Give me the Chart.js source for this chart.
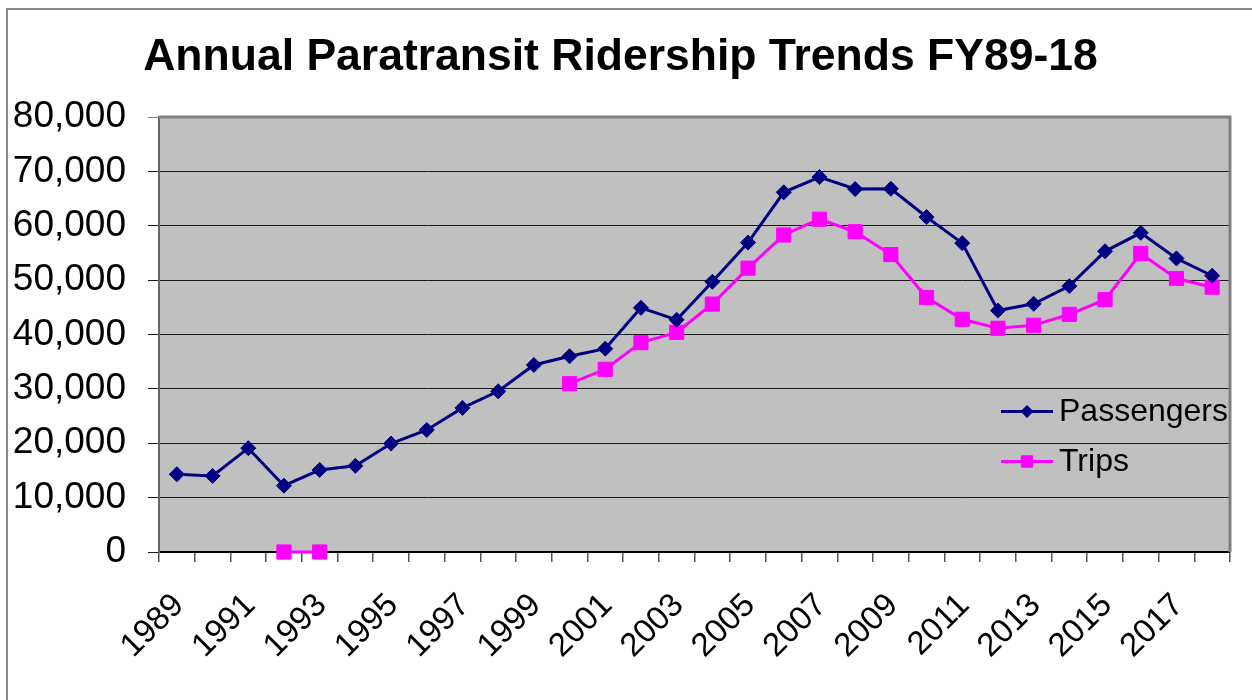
<!DOCTYPE html>
<html>
<head>
<meta charset="utf-8">
<script src="https://cdn.jsdelivr.net/npm/chart.js@4.4.0/dist/chart.umd.min.js"></script>
<style>
  html, body { margin: 0; padding: 0; background: #fff; }
  #wrap { width: 1252px; height: 700px; position: relative; }
</style>
</head>
<body>
<div id="wrap"><canvas id="c" width="1252" height="700"></canvas></div>
<script>
const chartTitle = "Annual Paratransit Ridership Trends FY89-18";
const years = ["1989","1990","1991","1992","1993","1994","1995","1996","1997","1998",
               "1999","2000","2001","2002","2003","2004","2005","2006","2007","2008",
               "2009","2010","2011","2012","2013","2014","2015","2016","2017","2018"];
const passengers = [14300, 14000, 19100, 12200, 15100, 15850, 19950, 22450, 26500, 29550,
                    34400, 36000, 37400, 44900, 42700, 49700, 56900, 66150, 68950, 66750,
                    66800, 61600, 56800, 44400, 45650, 48900, 55300, 58700, 54000, 50800];
const trips = [null, null, null, 0, 0, null, null, null, null, null,
               null, 30950, 33600, 38500, 40400, 45600, 52200, 58300, 61200, 58900,
               54700, 46800, 42800, 41150, 41700, 43700, 46400, 54900, 50300, 48700];
const yTicks = [0, 10000, 20000, 30000, 40000, 50000, 60000, 70000, 80000];

const FONT = "'Liberation Sans', Arial, sans-serif";

const decorPlugin = {
  id: 'decor',
  beforeDraw(chart) {
    const ctx = chart.ctx, a = chart.chartArea;
    ctx.save();
    ctx.fillStyle = '#ffffff';
    ctx.fillRect(0, 0, chart.width, chart.height);
    ctx.strokeStyle = '#888888';
    ctx.lineWidth = 2;
    ctx.beginPath();
    ctx.moveTo(7, chart.height);
    ctx.lineTo(7, 9);
    ctx.lineTo(chart.width, 9);
    ctx.stroke();
    ctx.fillStyle = '#C0C0C0';
    ctx.fillRect(a.left, a.top, a.right - a.left, a.bottom - a.top);
    ctx.restore();
  },
  beforeDatasetsDraw(chart) {
    const ctx = chart.ctx, a = chart.chartArea;
    ctx.save();
    ctx.strokeStyle = '#808080';
    ctx.lineWidth = 3;
    ctx.beginPath();
    ctx.moveTo(a.left, a.top);
    ctx.lineTo(a.right, a.top);
    ctx.lineTo(a.right, a.bottom);
    ctx.stroke();
    ctx.restore();
  },
  afterDraw(chart) {
    const ctx = chart.ctx;
    ctx.save();
    ctx.fillStyle = '#000';
    ctx.font = "bold 44.5px " + FONT;
    ctx.textAlign = 'center';
    ctx.textBaseline = 'alphabetic';
    ctx.fillText(chartTitle, 620.5, 70);
    const entries = [
      { ds: chart.data.datasets[0], y: 411.5 },
      { ds: chart.data.datasets[1], y: 461.5 }
    ];
    entries.forEach(e => {
      ctx.strokeStyle = e.ds.borderColor;
      ctx.lineWidth = e.ds.borderWidth;
      ctx.beginPath();
      ctx.moveTo(1001, e.y);
      ctx.lineTo(1053, e.y);
      ctx.stroke();
      ctx.fillStyle = e.ds.pointBackgroundColor;
      ctx.strokeStyle = e.ds.pointBorderColor;
      ctx.lineWidth = 1;
      Chart.helpers.drawPoint(ctx, {
        pointStyle: e.ds.pointStyle,
        radius: e.ds.pointStyle === 'rect' ? 8 : 6,
        borderWidth: 1
      }, 1027, e.y);
      ctx.fillStyle = '#000';
      ctx.font = "32px " + FONT;
      ctx.textAlign = 'left';
      ctx.textBaseline = 'middle';
      ctx.fillText(e.ds.label, 1059, e.y + 1);
    });
    ctx.restore();
  }
};

new Chart(document.getElementById('c'), {
  type: 'line',
  data: {
    labels: years,
    datasets: [
      {
        label: 'Passengers',
        data: passengers,
        borderColor: '#000080',
        backgroundColor: '#000080',
        pointBackgroundColor: '#000080',
        pointBorderColor: '#000080',
        borderWidth: 3,
        pointStyle: 'rectRot',
        pointRadius: 7.5,
        pointBorderWidth: 1,
        tension: 0,
        clip: false,
        order: 1
      },
      {
        label: 'Trips',
        data: trips,
        borderColor: '#FF00FF',
        backgroundColor: '#FF00FF',
        pointBackgroundColor: '#FF00FF',
        pointBorderColor: '#FF00FF',
        borderWidth: 3,
        pointStyle: 'rect',
        pointRadius: 10,
        pointBorderWidth: 1,
        tension: 0,
        spanGaps: false,
        clip: false,
        order: 2
      }
    ]
  },
  options: {
    responsive: false,
    animation: false,
    events: [],
    layout: { padding: { top: 117, right: 22, left: 0, bottom: 0 } },
    plugins: {
      legend: { display: false },
      title: { display: false },
      tooltip: { enabled: false }
    },
    scales: {
      x: {
        type: 'category',
        offset: true,
        grid: {
          offset: true,
          drawOnChartArea: false,
          drawTicks: true,
          tickLength: 10,
          color: '#555555',
          lineWidth: 1.5
        },
        border: { display: true, color: '#000000', width: 2 },
        ticks: {
          autoSkip: false,
          maxRotation: 45,
          minRotation: 45,
          padding: 24,
          labelOffset: 2,
          color: '#000',
          font: { family: FONT, size: 33 },
          callback: function (value, index) {
            return index % 2 === 0 ? this.getLabelForValue(value) : '';
          }
        },
        afterFit(scale) {
          scale.height = 148;
          scale.paddingLeft = 0;
          scale.paddingRight = 0;
        }
      },
      y: {
        min: 0,
        max: 80000,
        afterBuildTicks(scale) { scale.ticks = yTicks.map(v => ({ value: v })); },
        grid: {
          drawTicks: true,
          tickLength: 11,
          lineWidth: 1,
          color: (c) => c.tick && c.tick.value === 80000 ? '#808080' : '#1a1a1a'
        },
        border: { display: true, color: '#666666', width: 2 },
        ticks: {
          padding: 22,
          color: '#000',
          font: { family: FONT, size: 37 },
          callback: (v) => Number(v).toLocaleString('en-US')
        },
        afterFit(scale) {
          scale.width = 159;
          scale.paddingTop = 0;
          scale.paddingBottom = 0;
        }
      }
    }
  },
  plugins: [decorPlugin]
});
</script>
</body>
</html>
